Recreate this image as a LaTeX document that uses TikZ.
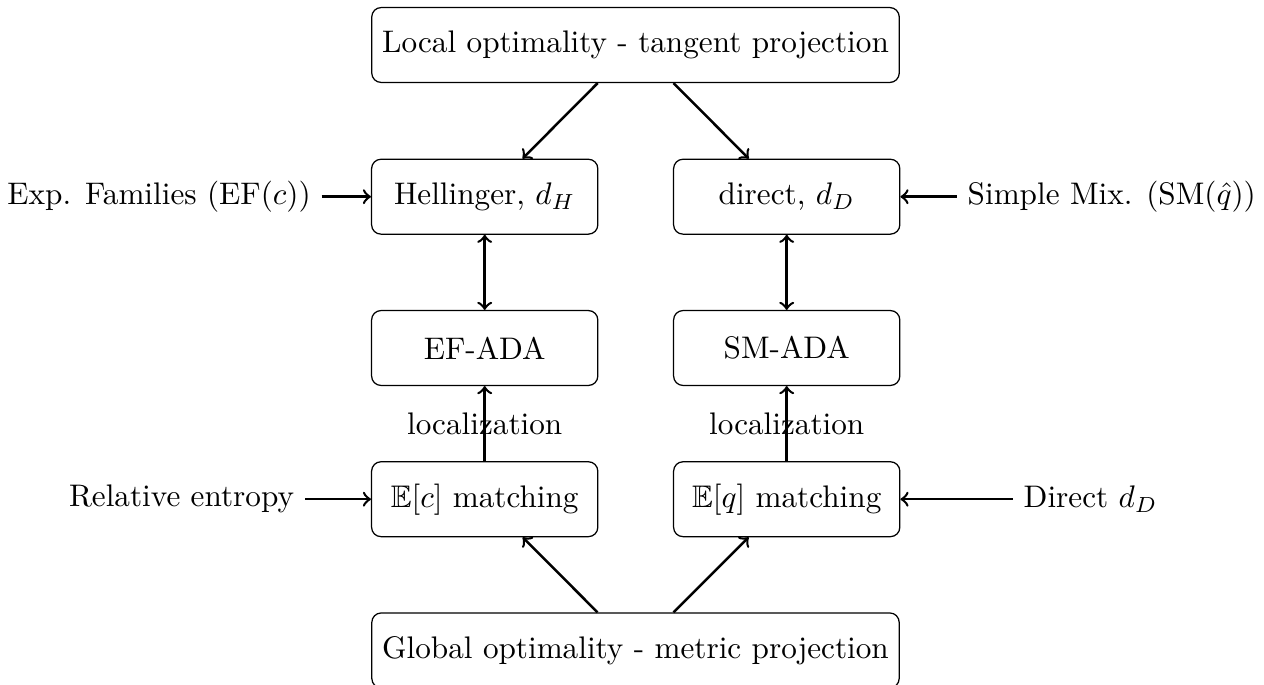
\documentclass[tikz,border=0pt]{standalone}
\usepackage{amssymb}
\begin{document}
\begin{tikzpicture}[x=0.32051pt,y=-0.32051pt,
  box/.style={draw, rounded corners=3pt, minimum width=72.5pt, minimum height=24pt, inner sep=3.33pt, line width=0.4pt},
  conn/.style={thick,->},
  biconn/.style={thick,<->},
  lbl/.style={inner sep=3.33pt}]
\useasboundingbox (0,0) rectangle (1264,684);
\node[box] (top) at (635.5,45) {Local optimality - tangent projection};
\node[box] (hell) at (484.7,196.7) {Hellinger, $d_H$};
\node[box] (dir) at (786.7,196.7) {direct, $d_D$};
\node[box] (efada) at (484.7,348) {EF-ADA};
\node[box] (smada) at (786.7,348) {SM-ADA};
\node[box] (ec) at (484.7,499.2) {$\mathbb{E}[c]$ matching};
\node[box] (eq) at (786.7,499.2) {$\mathbb{E}[q]$ matching};
\node[box] (glob) at (635.5,650.4) {Global optimality - metric projection};
\node[lbl, anchor=east] (ef) at (321.7,196.7) {Exp. Families (EF$(c)$)};
\node[lbl, anchor=west] (sm) at (956.7,196.7) {Simple Mix. (SM$(\hat q)$)};
\node[lbl, anchor=east] (re) at (305,499.2) {Relative entropy};
\node[lbl, anchor=west] (dd) at (1012.7,499.2) {Direct $d_D$};
\draw[conn] (top) -- (hell);
\draw[conn] (top) -- (dir);
\draw[biconn] (hell) -- (efada);
\draw[biconn] (dir) -- (smada);
\draw[conn] (ec) -- node[lbl] (loc1) {localization} (efada);
\draw[conn] (eq) -- node[lbl] (loc2) {localization} (smada);
\draw[conn] (glob) -- (ec);
\draw[conn] (glob) -- (eq);
\draw[conn] (ef) -- (hell);
\draw[conn] (sm) -- (dir);
\draw[conn] (re) -- (ec);
\draw[conn] (dd) -- (eq);
\end{tikzpicture}
\end{document}
